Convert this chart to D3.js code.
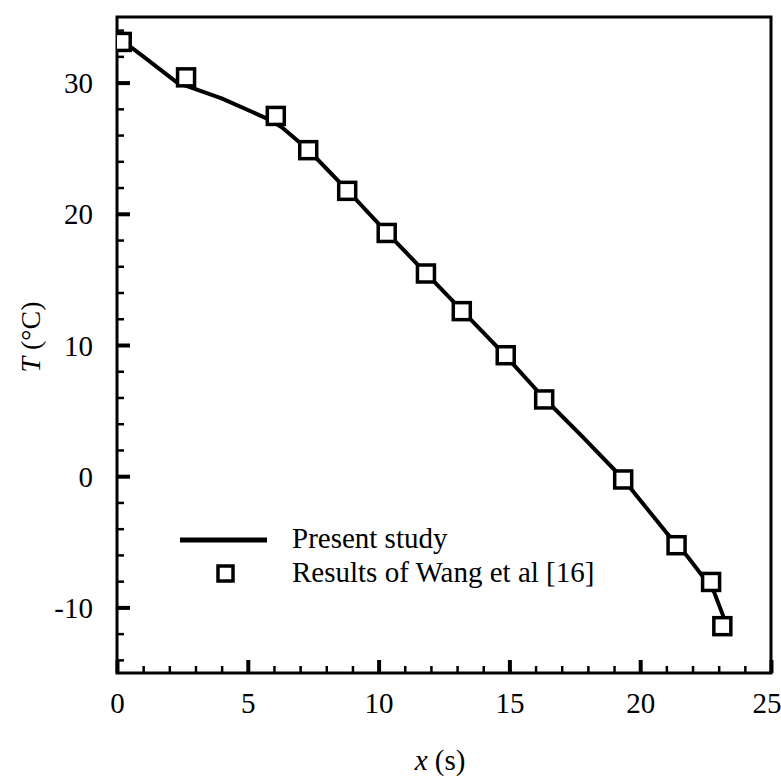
<!DOCTYPE html>
<html>
<head>
<meta charset="utf-8">
<script src="https://cdn.jsdelivr.net/npm/d3@7"></script>
<style>
  body { margin: 0; background: #fff; }
  svg { display: block; font-family: "Liberation Serif", "Times New Roman", serif; }
</style>
</head>
<body>
<svg id="chart" width="781" height="779"></svg>
<script>
// present study (solid line)
const studyX = [0.2, 1.0, 2.3, 4.0, 5.8, 6.3, 7.3, 8.8, 10.3, 11.8, 13.2, 14.8, 16.3, 17.8, 19.3, 21.0, 21.8, 22.8, 23.2];
const studyT = [33.2, 32.0, 30.0, 28.8, 27.2, 26.6, 24.9, 21.8, 18.6, 15.5, 12.6, 9.3, 6.0, 3.0, -0.1, -4.3, -6.1, -8.7, -10.8];

// Results of Wang et al [16] (squares)
const wangX = [0.18, 2.64, 6.07, 7.31, 8.80, 10.31, 11.81, 13.18, 14.86, 16.33, 19.35, 21.39, 22.71, 23.14];
const wangT = [33.1, 30.4, 27.46, 24.85, 21.75, 18.54, 15.45, 12.58, 9.22, 5.85, -0.25, -5.26, -8.06, -11.43];

const xTicks = [0, 5, 10, 15, 20, 25];
const yTicks = [-10, 0, 10, 20, 30];
const legendLabels = ["Present study", "Results of Wang et al [16]"];

const margin = {left: 117, top: 17, right: 10, bottom: 106};
const W = 781, H = 779;
const iw = W - margin.left - margin.right;
const ih = H - margin.top - margin.bottom;

const svg = d3.select("#chart");
const g = svg.append("g").attr("transform", `translate(${margin.left},${margin.top})`);

const x = d3.scaleLinear().domain([0, 25]).range([0, iw]);
const y = d3.scaleLinear().domain([-15, 35]).range([ih, 0]);

// minor ticks
const gxMinor = g.append("g").attr("transform", `translate(0,${ih})`)
  .call(d3.axisBottom(x).tickValues(d3.range(0, 25, 1)).tickSize(-7).tickFormat(""));
const gyMinor = g.append("g")
  .call(d3.axisLeft(y).tickValues(d3.range(-14, 35, 2)).tickSize(-7).tickFormat(""));
[gxMinor, gyMinor].forEach(a => {
  a.select(".domain").remove();
  a.selectAll("line").attr("stroke", "#000").attr("stroke-width", 2.5);
});

// major ticks
const gx = g.append("g").attr("transform", `translate(0,${ih})`)
  .call(d3.axisBottom(x).tickValues(xTicks).tickSize(-13).tickPadding(19).tickFormat(d => String(d)));
const gy = g.append("g")
  .call(d3.axisLeft(y).tickValues(yTicks).tickSize(-13).tickPadding(24).tickFormat(d => String(d)));
[gx, gy].forEach(a => {
  a.select(".domain").remove();
  a.selectAll("line").attr("stroke", "#000").attr("stroke-width", 4);
  a.selectAll("text").attr("font-size", 29).attr("fill", "#000")
    .style("font-family", "Liberation Serif, serif");
});
gx.selectAll("text").attr("dy", "0.71em");
gy.selectAll("text").attr("dy", "0.35em");
// keep the last x label inside the picture
gx.selectAll("text").filter(d => d === 25).attr("text-anchor", "end").attr("x", 10);

// frame
g.append("rect").attr("width", iw).attr("height", ih)
  .attr("fill", "none").attr("stroke", "#000").attr("stroke-width", 3);

const clip = svg.append("defs").append("clipPath").attr("id", "clip")
  .append("rect").attr("width", iw).attr("height", ih);

// line
const line = d3.line().x(d => x(d[0])).y(d => y(d[1]));
g.append("path")
  .datum(d3.zip(studyX, studyT))
  .attr("d", line)
  .attr("fill", "none").attr("stroke", "#000").attr("stroke-width", 4)
  .attr("stroke-linejoin", "round");

// squares
const sq = 17;
g.append("g").attr("clip-path", "url(#clip)")
  .selectAll("rect").data(d3.zip(wangX, wangT)).join("rect")
  .attr("x", d => x(d[0]) - sq / 2).attr("y", d => y(d[1]) - sq / 2)
  .attr("width", sq).attr("height", sq)
  .attr("fill", "#fff").attr("stroke", "#000").attr("stroke-width", 3.5);

// legend
const lg = svg.append("g");
lg.append("line").attr("x1", 180).attr("x2", 267).attr("y1", 540).attr("y2", 540)
  .attr("stroke", "#000").attr("stroke-width", 5);
lg.append("rect").attr("x", 218).attr("y", 566).attr("width", 15).attr("height", 15)
  .attr("fill", "#fff").attr("stroke", "#000").attr("stroke-width", 3.5);
lg.selectAll("text").data(legendLabels).join("text")
  .attr("x", 292).attr("y", (d, i) => 548 + i * 34)
  .attr("font-size", 29).attr("fill", "#000")
  .text(d => d);

// axis titles
const xt = svg.append("text").attr("x", 440).attr("y", 770)
  .attr("text-anchor", "middle").attr("font-size", 29);
xt.append("tspan").attr("font-style", "italic").text("x");
xt.append("tspan").text(" (s)");

const yt = svg.append("text")
  .attr("transform", `translate(40,${margin.top + ih / 2 - 8}) rotate(-90)`)
  .attr("text-anchor", "middle").attr("font-size", 28);
yt.append("tspan").attr("font-style", "italic").text("T");
yt.append("tspan").text(" (°C)");
</script>
</body>
</html>
